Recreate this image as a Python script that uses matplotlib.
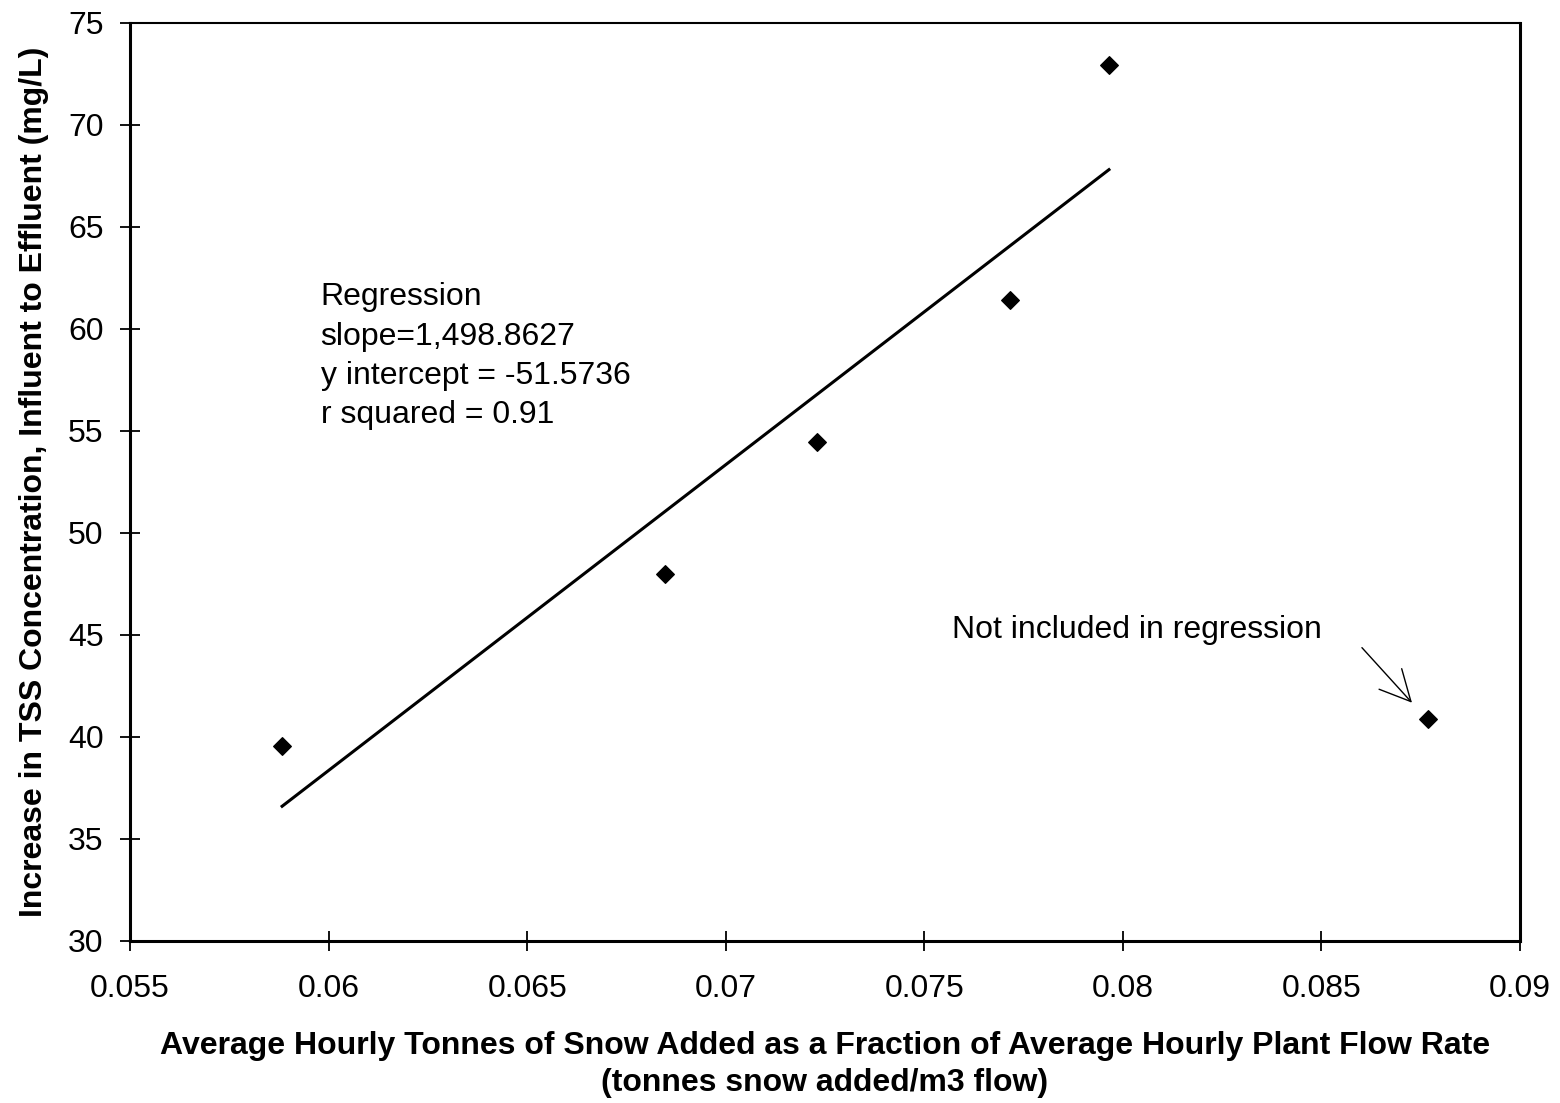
import matplotlib
matplotlib.use("Agg")
import matplotlib.pyplot as plt
import numpy as np

plt.rcParams['font.family'] = ['Liberation Sans', 'DejaVu Sans']

x_vals = [0.05883, 0.06847, 0.07230, 0.07716, 0.07965]
y_vals = [39.57, 48.01, 54.44, 61.41, 72.94]
x_excl = [0.08768]
y_excl = [40.89]
slope = 1498.8627
intercept = -51.5736
xticks = [0.055, 0.06, 0.065, 0.07, 0.075, 0.08, 0.085, 0.09]
xticklabels = ['0.055', '0.06', '0.065', '0.07', '0.075', '0.08', '0.085', '0.09']
yticks = [30, 35, 40, 45, 50, 55, 60, 65, 70, 75]

fig = plt.figure(figsize=(15.6, 11.03), dpi=100)
ax = fig.add_axes([130/1560, 1-941/1103, 1390/1560, 918/1103])

xl = np.array([x_vals[0], x_vals[-1]])
ax.plot(xl, slope*xl + intercept, color='black', lw=2.2, zorder=2)
ax.scatter(x_vals, y_vals, marker='D', s=80, color='black', zorder=3)
ax.scatter(x_excl, y_excl, marker='D', s=80, color='black', zorder=3)

ax.set_xlim(0.055, 0.09)
ax.set_ylim(30, 75)
ax.set_xticks(xticks)
ax.set_xticklabels(xticklabels)
ax.set_yticks(yticks)
ax.tick_params(direction='inout', length=14, width=1.3, labelsize=23)
ax.tick_params(axis='x', pad=17)
ax.tick_params(axis='y', pad=12)
for s in ['left', 'bottom', 'right']:
    ax.spines[s].set_linewidth(2.2)
ax.spines['top'].set_linewidth(1.5)

ax.text(0.05980, 62.28, 'Regression\nslope=1,498.8627\ny intercept = -51.5736\nr squared = 0.91',
        fontsize=23, va='top', ha='left', linespacing=1.4)
ax.text(0.0757, 45.26, 'Not included in regression', fontsize=23, va='center', ha='left')
ax.annotate('', xy=(0.08728, 41.68), xytext=(0.08602, 44.38),
            arrowprops=dict(arrowstyle='->', color='black', lw=1.0, mutation_scale=55,
                            shrinkA=0, shrinkB=0))

ax.set_xlabel('Average Hourly Tonnes of Snow Added as a Fraction of Average Hourly Plant Flow Rate\n(tonnes snow added/m3 flow)',
              fontsize=23, fontweight='bold', labelpad=19, linespacing=1.33)
ax.set_ylabel('Increase in TSS Concentration, Influent to Effluent (mg/L)',
              fontsize=23, fontweight='bold', labelpad=14)

fig.savefig('out.png', dpi=100)
